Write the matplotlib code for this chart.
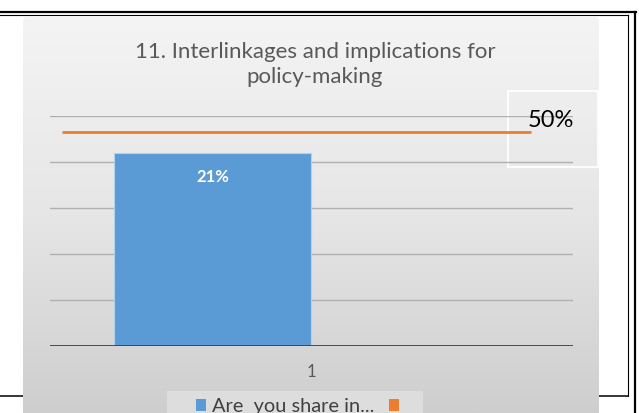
import numpy as np
import matplotlib.pyplot as plt
from matplotlib.colors import LinearSegmentedColormap
from matplotlib.patches import FancyBboxPatch, Rectangle, Patch

plt.rcParams['font.family'] = ['Lato', 'DejaVu Sans']

# data
categories = ['1']
share = [0.21]
share_labels = ['21%']
target = 0.50
target_label = '50%'
title = '11. Interlinkages and implications for\npolicy-making'
legend_labels = ['Are  you share in...', '']

BLUE = '#5b9bd5'
ORANGE = '#ed7d31'
GREY_TXT = '#595959'

W, H = 639, 413
fig = plt.figure(figsize=(W / 100, H / 100), dpi=100)

# pixel-space background layer: page frame + chart panel
bg = fig.add_axes([0, 0, 1, 1])
bg.axis('off')

grad = np.linspace(0, 1, 256).reshape(-1, 1)
cmap = LinearSegmentedColormap.from_list('panel', ['#f4f4f4', '#e6e6e6', '#cecece'])
im = bg.imshow(grad, cmap=cmap, extent=(23, 599, 413, 17), aspect='auto', zorder=2)
panel = FancyBboxPatch((23, 17), 576, 420, boxstyle='round,pad=0,rounding_size=4',
                       facecolor='none', edgecolor='none', zorder=2)
bg.add_patch(panel)
im.set_clip_path(panel)

# page frame lines
bg.plot([0, 636], [12.3, 12.3], color='black', lw=1.6, zorder=1)
bg.plot([0, 628], [15.3, 15.3], color='black', lw=0.8, zorder=1)
bg.plot([634.5, 634.5], [11.5, 413], color='black', lw=1.6, zorder=1)
bg.plot([628, 628], [15.3, 395.5], color='black', lw=0.8, zorder=1)
bg.plot([0, 628.4], [395.5, 395.5], color='black', lw=1.1, zorder=1)

# data label box and legend box
bg.add_patch(Rectangle((508, 91), 90, 76, facecolor='none', edgecolor='white', lw=1.3, zorder=6))
bg.add_patch(Rectangle((167, 391), 256, 30, facecolor='#dddddd', edgecolor='none', zorder=3))

bg.set_xlim(0, W)
bg.set_ylim(H, 0)

fig.text(315 / W, 1 - 64.5 / H, title, ha='center', va='center', fontsize=16,
         color=GREY_TXT, linespacing=1.32, zorder=5)

# main plot area
ax = fig.add_axes([50 / W, 1 - 346 / H, 523 / W, 230 / H])
ax.patch.set_alpha(0)
x = np.arange(1, len(categories) + 1)
bar_w = 0.377
bars = ax.bar(x - bar_w / 2, share, width=bar_w, color=BLUE, edgecolor='#b3d0ec', lw=0.8, zorder=3)
for xi, v, lab in zip(x, share, share_labels):
    ax.annotate(lab, xy=(xi - bar_w / 2, v), xytext=(0, -17.5), textcoords='offset points',
                ha='center', va='center', color='white', fontsize=12, fontweight='bold', zorder=4)

# target line on a secondary scale
ax2 = ax.twinx()
ax2.set_ylim(0, target / 0.93)
ax2.hlines(target, 0.523, 1.42, color=ORANGE, lw=2, zorder=3)
ax2.annotate(target_label, xy=(1.458, target), xytext=(0, 8.5), textcoords='offset points',
             ha='center', va='center', fontsize=17, color='black')
ax2.axis('off')

ax.set_xlim(0.5, 1.5)
ax.set_ylim(0, 0.25)
ax.set_yticks(np.arange(0.05, 0.251, 0.05))
ax.yaxis.grid(True, color='#b0b0b0', lw=1.0)
ax.set_axisbelow(True)
ax.set_xticks(x, categories)
ax.tick_params(left=False, labelleft=False, right=False, bottom=False, pad=9.5,
               labelsize=12, labelcolor=GREY_TXT)
for s in ax.spines.values():
    s.set_visible(False)
ax.axhline(0, color='#404040', lw=2, zorder=4)

handles = [Patch(facecolor=BLUE), Patch(facecolor=ORANGE)]
leg = fig.legend(handles, legend_labels, ncol=2, loc='upper left',
                 bbox_to_anchor=(192 / W, 1 - 394 / H), frameon=False, fontsize=14.4,
                 labelcolor='#404040', handlelength=0.5, handleheight=0.5,
                 handletextpad=0.3, columnspacing=0.75, borderpad=0.2, borderaxespad=0)
leg.set_zorder(7)

fig.savefig('out.png', dpi=100)
